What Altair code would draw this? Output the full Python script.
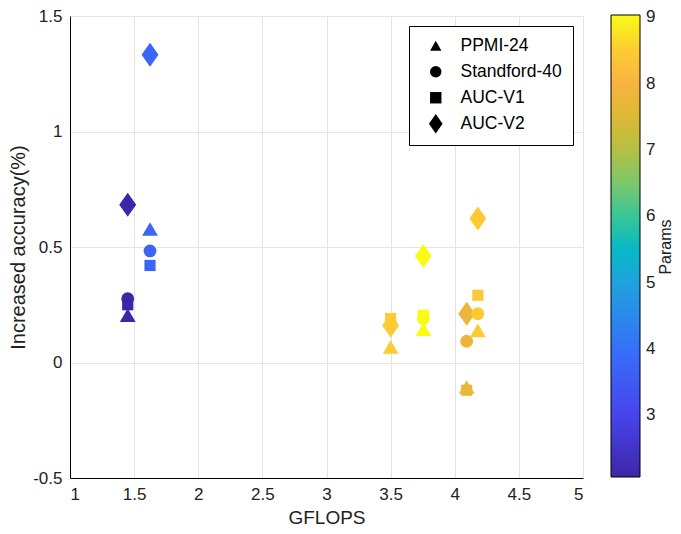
import altair as alt
import pandas as pd

# ---- data ----
dataset_names = ["PPMI-24", "Standford-40", "AUC-V1", "AUC-V2"]

gflops = [1.45, 1.45, 1.45, 1.45,
          1.624, 1.624, 1.624, 1.624,
          3.5, 3.5, 3.5, 3.5,
          3.755, 3.755, 3.755, 3.755,
          4.093, 4.093, 4.093, 4.093,
          4.18, 4.18, 4.18, 4.18]
dataset = ["AUC-V1", "Standford-40", "PPMI-24", "AUC-V2"] * 6
accuracy = [0.25, 0.276, 0.205, 0.683,
            0.42, 0.483, 0.578, 1.332,
            0.19, 0.168, 0.067, 0.16,
            0.205, 0.19, 0.144, 0.461,
            -0.12, 0.092, -0.106, 0.211,
            0.291, 0.211, 0.139, 0.623]
params = [2.066, 2.066, 2.066, 2.066,
          3.75, 3.75, 3.75, 3.75,
          8.5, 8.5, 8.5, 8.5,
          9.036, 9.036, 9.036, 9.036,
          7.8, 7.8, 7.8, 7.8,
          8.45, 8.45, 8.45, 8.45]

# parula-like colour stops (value -> colour)
cmap_values = [2.066, 3, 4, 4.5, 5, 5.5, 6, 6.5, 7, 7.5, 8, 8.5, 9.036]
cmap_colors = ["#3e26a8", "#4744ec", "#3670f8", "#2a8aeb", "#1fa2dd", "#07b9c6",
               "#38c596", "#7bc86a", "#b5bf43", "#dbb935", "#f8b43f", "#fdcb33",
               "#f9fb14"]

x_ticks = [1, 1.5, 2, 2.5, 3, 3.5, 4, 4.5, 5]
y_ticks = [-0.5, 0, 0.5, 1, 1.5]
cbar_ticks = [3, 4, 5, 6, 7, 8, 9]
cbar_title = ["Params"]

shapes = ["triangle-up", "circle", "square", "M0,-1.7L1.2,0L0,1.7L-1.2,0Z"]
# marker areas, in alphabetical order of the dataset names
size_names = ["AUC-V1", "AUC-V2", "PPMI-24", "Standford-40"]
sizes = [125, 200, 250, 165]

df = pd.DataFrame({"GFLOPS": gflops, "Dataset": dataset,
                   "Accuracy": accuracy, "Params": params})
df["Marker"] = df["Dataset"]

FONT = "Liberation Sans"

points = alt.Chart(df).mark_point(filled=True, opacity=1, strokeWidth=0).encode(
    x=alt.X("GFLOPS:Q", scale=alt.Scale(domain=[1, 5], nice=False, zero=False),
            axis=alt.Axis(values=x_ticks, title="GFLOPS", labelExpr="'' + datum.value",
                          titlePadding=6)),
    y=alt.Y("Accuracy:Q", scale=alt.Scale(domain=[-0.5, 1.5], nice=False, zero=False),
            axis=alt.Axis(values=y_ticks, title="Increased accuracy(%)",
                          labelExpr="'' + datum.value", titlePadding=4,
                          titleFontSize=20)),
    color=alt.Color("Params:Q",
                    scale=alt.Scale(domain=cmap_values, range=cmap_colors, interpolate="rgb"),
                    legend=alt.Legend(orient="none", legendX=541, legendY=-1,
                                      direction="vertical", gradientLength=462,
                                      gradientThickness=29, gradientStrokeColor="black",
                                      gradientStrokeWidth=1, values=cbar_ticks,
                                      labelFontSize=17, labelOffset=6, labelColor="#222222",
                                      title=None)),
    shape=alt.Shape("Dataset:N", scale=alt.Scale(domain=dataset_names, range=shapes),
                    legend=alt.Legend(orient="top-right", offset=10, title=None,
                                      strokeColor="black", fillColor="white", padding=11,
                                      labelFontSize=17.5, labelColor="black",
                                      symbolFillColor="black", symbolStrokeColor="black",
                                      symbolStrokeWidth=0,
                                      symbolSize=130, symbolOffset=7, labelOffset=16,
                                      rowPadding=7, cornerRadius=0)),
    size=alt.Size("Marker:N", scale=alt.Scale(type="ordinal", range=sizes),
                  sort=size_names, legend=None),
)

title_text = alt.Chart(pd.DataFrame({"t": cbar_title})).mark_text(
    angle=270, font=FONT, fontSize=16, color="#222222", align="center", baseline="middle"
).encode(x=alt.value(596), y=alt.value(231), text="t:N")

chart = alt.layer(points, title_text).properties(
    width=513, height=462,
    autosize="none",
    padding={"left": 62, "top": 8, "right": 90, "bottom": 48},
    background="white",
).configure_view(stroke=None).configure_axis(
    labelFont=FONT, titleFont=FONT, labelFontSize=17, titleFontSize=19,
    titleFontWeight="normal", labelColor="#222222", titleColor="#222222",
    domainColor="black", domainWidth=1, ticks=False, labelPadding=8,
    gridColor="#e4e4e4", gridWidth=1,
).configure_legend(labelFont=FONT, titleFont=FONT)

chart.save("out.html", embed_options={"renderer": "svg", "actions": False})
